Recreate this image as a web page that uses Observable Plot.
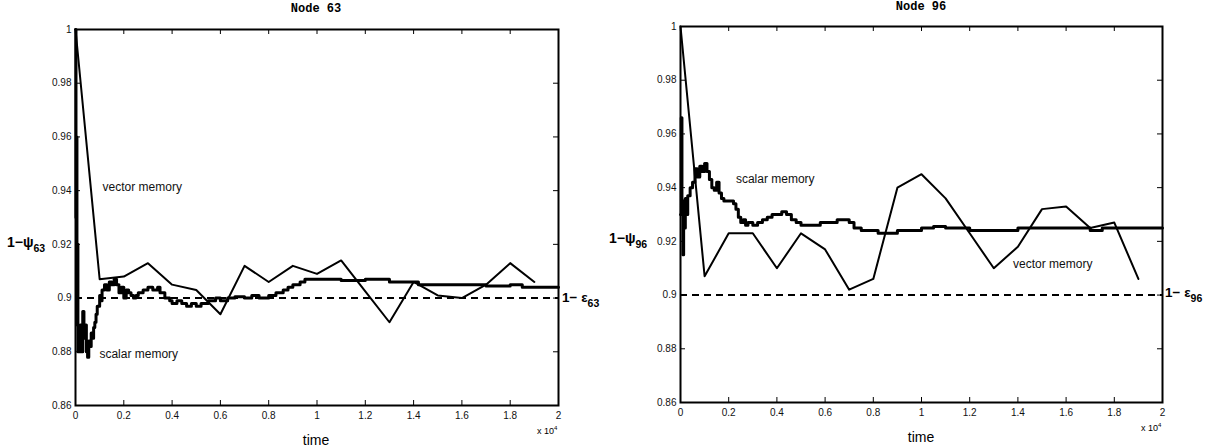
<!DOCTYPE html>
<html>
<head>
<meta charset="utf-8">
<script src="https://cdn.jsdelivr.net/npm/d3@7"></script>
<script src="https://cdn.jsdelivr.net/npm/@observablehq/plot@0.6"></script>
<style>
  html, body { margin: 0; padding: 0; background: #fff; }
  #wrap { position: relative; width: 1208px; height: 448px; overflow: hidden; font-family: "Liberation Sans", Arial, Helvetica, sans-serif; color: #000; }
  .panel { position: absolute; top: 0; width: 604px; height: 448px; }
  .lbl { position: absolute; white-space: nowrap; line-height: 1; }
  .title { font-family: "Liberation Mono", "Courier New", monospace; font-weight: bold; font-size: 12px; transform: translate(-50%, -50%); }
  .time { font-size: 14px; transform: translate(-50%, -50%); }
  .exp { font-size: 9px; }
  .exp sup { font-size: 6px; vertical-align: 4px; }
  .ylab { font-weight: bold; font-size: 14px; transform: translate(0, -50%); }
  .ylab sub, .elab sub { font-size: 10.5px; vertical-align: -5px; }
  .elab { font-weight: bold; font-size: 13.5px; transform: translate(0, -50%); }
</style>
</head>
<body>
<div id="wrap">
  <div class="panel" id="p63" style="left:0px"></div>
  <div class="panel" id="p96" style="left:604px; top:-3px"></div>
  <span class="lbl title" style="left:316px; top:9px">Node 63</span>
  <span class="lbl title" style="left:921px; top:7px">Node 96</span>
  <span class="lbl time" style="left:316px; top:440px">time</span>
  <span class="lbl time" style="left:921px; top:437px">time</span>
  <span class="lbl exp" style="left:537px; top:425px">x 10<sup>4</sup></span>
  <span class="lbl exp" style="left:1141px; top:422px">x 10<sup>4</sup></span>
  <span class="lbl ylab" style="left:7px; top:244px">1−ψ<sub>63</sub></span>
  <span class="lbl ylab" style="left:609px; top:240px">1−ψ<sub>96</sub></span>
  <span class="lbl elab" style="left:562px; top:300px">1− ε<sub>63</sub></span>
  <span class="lbl elab" style="left:1165px; top:295px">1− ε<sub>96</sub></span>
</div>
<script>
// ---------- data ----------
const xTicks = [0, 2000, 4000, 6000, 8000, 10000, 12000, 14000, 16000, 18000, 20000];
const xTickLabels = ["0", "0.2", "0.4", "0.6", "0.8", "1", "1.2", "1.4", "1.6", "1.8", "2"];
const yTicks = [0.86, 0.88, 0.9, 0.92, 0.94, 0.96, 0.98, 1];
const yTickLabels = ["0.86", "0.88", "0.9", "0.92", "0.94", "0.96", "0.98", "1"];
const threshold = 0.9;

// Node 63 — vector memory
const vecTime = [0, 1000, 2000, 3000, 4000, 5000, 6000, 7000, 8000, 9000, 10000, 11000, 12000, 13000, 14000, 15000, 16000, 17000, 18000, 19000];
const vec63 = [1.0, 0.907, 0.908, 0.913, 0.905, 0.903, 0.894, 0.912, 0.906, 0.912, 0.909, 0.914, 0.9025, 0.891, 0.906, 0.901, 0.900, 0.905, 0.913, 0.906];
// Node 96 — vector memory
const vec96 = [1.0, 0.907, 0.923, 0.923, 0.910, 0.923, 0.917, 0.902, 0.906, 0.940, 0.945, 0.936, 0.923, 0.910, 0.918, 0.932, 0.933, 0.925, 0.927, 0.906];

// Node 63 — scalar memory
const sc63Time = [0, 20, 40, 60, 80, 100, 150, 200, 250, 300, 350, 400, 450, 500, 550, 600, 650, 700, 750, 800, 850, 900, 1000, 1050, 1100, 1200, 1300, 1400, 1500, 1600, 1700, 1800, 1900, 2000, 2100, 2200, 2300, 2400, 2500, 2600, 2800, 3000, 3200, 3400, 3500, 3700, 3900, 4000, 4200, 4400, 4600, 4800, 5000, 5200, 5500, 5800, 6000, 6300, 6600, 7000, 7300, 7600, 8000, 8300, 8600, 8800, 9000, 9300, 9500, 10000, 11000, 12000, 13000, 14000, 14200, 16000, 17000, 18000, 18500, 20000];
const sc63 = [1.0, 0.93, 0.96, 0.89, 0.92, 0.88, 0.88, 0.89, 0.88, 0.895, 0.885, 0.89, 0.88, 0.878, 0.884, 0.882, 0.887, 0.885, 0.889, 0.891, 0.894, 0.897, 0.901, 0.899, 0.903, 0.905, 0.903, 0.906, 0.905, 0.907, 0.905, 0.902, 0.904, 0.900, 0.903, 0.902, 0.901, 0.900, 0.901, 0.902, 0.903, 0.904, 0.903, 0.904, 0.902, 0.900, 0.899, 0.898, 0.899, 0.898, 0.897, 0.898, 0.897, 0.898, 0.899, 0.900, 0.899, 0.900, 0.9005, 0.900, 0.901, 0.900, 0.901, 0.902, 0.903, 0.904, 0.905, 0.906, 0.907, 0.907, 0.9065, 0.907, 0.906, 0.906, 0.905, 0.905, 0.9045, 0.905, 0.904, 0.904];

// Node 96 — scalar memory
const sc96Time = [0, 30, 60, 100, 130, 170, 200, 250, 300, 400, 500, 600, 700, 800, 900, 1000, 1100, 1200, 1300, 1400, 1500, 1600, 1700, 1800, 2000, 2200, 2300, 2400, 2500, 2600, 2700, 2800, 3000, 3200, 3400, 3600, 3800, 4000, 4200, 4400, 4600, 4800, 5000, 5500, 5800, 6200, 6500, 7000, 7200, 7500, 8000, 8200, 9000, 9500, 10000, 10500, 11000, 12000, 13000, 14000, 15000, 16000, 17000, 17500, 20000];
const sc96 = [0.93, 0.966, 0.93, 0.915, 0.935, 0.925, 0.936, 0.93, 0.937, 0.94, 0.942, 0.947, 0.944, 0.948, 0.946, 0.949, 0.946, 0.943, 0.940, 0.939, 0.942, 0.938, 0.936, 0.935, 0.935, 0.934, 0.932, 0.929, 0.927, 0.928, 0.926, 0.927, 0.926, 0.927, 0.928, 0.929, 0.930, 0.930, 0.931, 0.930, 0.928, 0.927, 0.926, 0.926, 0.927, 0.927, 0.928, 0.927, 0.925, 0.924, 0.924, 0.923, 0.924, 0.924, 0.925, 0.9255, 0.925, 0.924, 0.924, 0.925, 0.925, 0.925, 0.924, 0.925, 0.925];

// annotations
const ann63 = [{t: 1120, v: 0.9412, label: "vector memory"}, {t: 990, v: 0.879, label: "scalar memory"}];
const ann96 = [{t: 2300, v: 0.9433, label: "scalar memory"}, {t: 13800, v: 0.9116, label: "vector memory"}];

// ---------- drawing ----------
function panel(vec, scTime, sc, ann, m) {
  const vData = vecTime.map((t, i) => ({t, v: vec[i]}));
  const sData = scTime.map((t, i) => ({t, v: sc[i]}));
  const W = 604, H = 448;
  const pw = W - m.left - m.right, ph = H - m.top - m.bottom;
  return Plot.plot({
    width: W, height: H,
    marginLeft: m.left, marginRight: m.right, marginTop: m.top, marginBottom: m.bottom,
    x: {domain: [0, 20000]},
    y: {domain: [0.86, 1]},
    style: {fontFamily: "'Liberation Sans', Arial, Helvetica, sans-serif", fontSize: "10px", background: "transparent", color: "#000"},
    marks: [
      Plot.ruleY([threshold], {stroke: "#000", strokeWidth: 2, strokeDasharray: "7,5"}),
      Plot.line(sData, {x: "t", y: "v", curve: "step-after", stroke: "#000", strokeWidth: 3}),
      Plot.line(vData, {x: "t", y: "v", stroke: "#000", strokeWidth: 2}),
      Plot.text(ann, {x: "t", y: "v", text: "label", textAnchor: "start", fontSize: 12, fill: "#111"}),
      // inward ticks on all four sides
      Plot.ruleX(xTicks, {x: d => d, insetTop: ph - 5, stroke: "#000", strokeWidth: 1}),
      Plot.ruleX(xTicks, {x: d => d, insetBottom: ph - 5, stroke: "#000", strokeWidth: 1}),
      Plot.ruleY(yTicks, {y: d => d, insetRight: pw - 5, stroke: "#000", strokeWidth: 1}),
      Plot.ruleY(yTicks, {y: d => d, insetLeft: pw - 5, stroke: "#000", strokeWidth: 1}),
      Plot.axisX(xTicks, {tickSize: 0, tickPadding: 6, label: null, fill: "#111",
        tickFormat: d => xTickLabels[xTicks.indexOf(d)]}),
      Plot.axisY(yTicks, {tickSize: 0, tickPadding: 4, label: null, fill: "#111",
        tickFormat: d => yTickLabels[yTicks.indexOf(d)]}),
      Plot.frame({stroke: "#000", strokeWidth: 2})
    ]
  });
}

const margins = {left: 75, right: 46, top: 29, bottom: 43};
document.getElementById("p63").appendChild(panel(vec63, sc63Time, sc63, ann63, margins));
document.getElementById("p96").appendChild(panel(vec96, sc96Time, sc96, ann96, {left: 76, right: 46, top: 29, bottom: 43}));
</script>
</body>
</html>
